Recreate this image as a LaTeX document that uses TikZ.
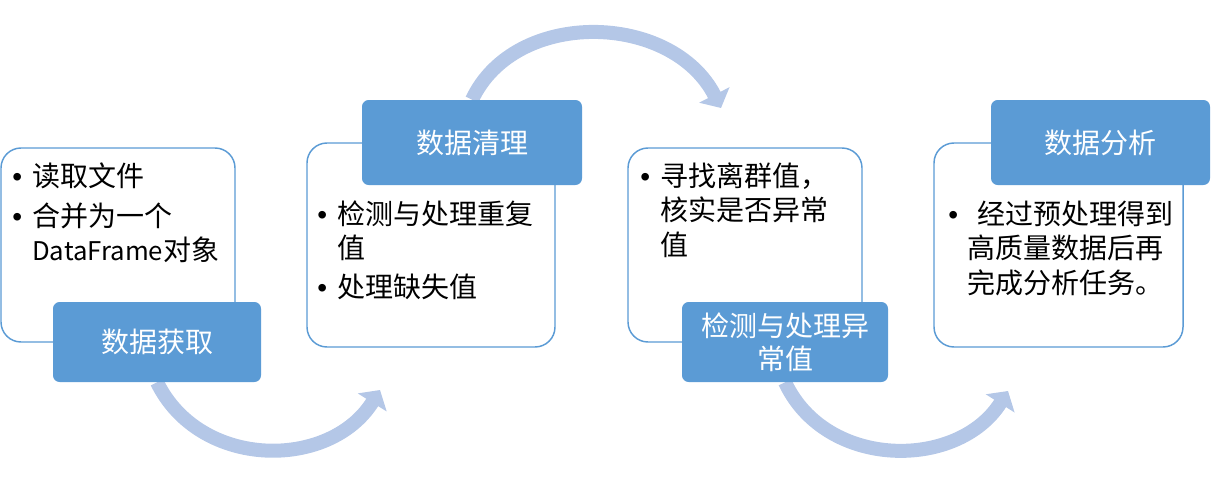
\documentclass[tikz,border=0pt]{standalone}
\usepackage{fontspec}
\setmainfont{Noto Sans CJK SC}
\newfontfamily\bulfont{Liberation Sans}
\usetikzlibrary{arrows.meta}
\definecolor{mblue}{HTML}{5B9BD5}
\definecolor{marrow}{HTML}{B4C7E7}
\newcommand\bul{\makebox[15pt][l]{\bulfont •}}
\newcommand\bulsp{\hspace*{15pt}}
\pgfdeclarelayer{background}
\pgfsetlayers{background,main}
\begin{document}
\begin{tikzpicture}[x=0.75pt,y=-0.75pt,
  txt/.style={font=\fontsize{21}{26}\selectfont, inner sep=0pt, anchor=base west, text=black},
  wbox/.style={draw=mblue, line width=1.1pt, fill=white, rounded corners=15pt, inner sep=0pt},
  bbox/.style={fill=mblue, rounded corners=5pt, text=white, font=\fontsize{21}{25}\selectfont, align=center, inner sep=0pt},
  flow/.style={draw=marrow, line width=10.5pt, -{Triangle[length=11pt,width=25pt]}}
]
\useasboundingbox (0,0) rectangle (1212,492);

% white content boxes
\node[wbox, minimum width=175.5pt, minimum height=145.5pt] (w1) at (118,245) {};
\node[wbox, minimum width=186pt, minimum height=153pt] (w2) at (431,245) {};
\node[wbox, minimum width=175.5pt, minimum height=145.5pt] (w3) at (745,245) {};
\node[wbox, minimum width=186.75pt, minimum height=153pt] (w4) at (1058.5,245) {};

% box texts
\node[txt] (t1a) at (12,186) {\bul 读取文件};
\node[txt] (t1b) at (12,226) {\vtop{\hbox{\bul 合并为一个}\hbox{\bulsp {\fontsize{19.3}{26}\selectfont DataFrame}对象}}};
\node[txt] (t2a) at (317,224) {\vtop{\hbox{\bul 检测与处理重复}\hbox{\bulsp 值}}};
\node[txt] (t2b) at (317,297) {\bul 处理缺失值};
\node[txt] (t3a) at (640,186) {\vtop{\hbox{\bul 寻找离群值，}\hbox{\bulsp 核实是否异常}\hbox{\bulsp 值}}};
\node[txt] (t4a) at (948,224) {\vtop{\hbox{\makebox[14.25pt][l]{\bulfont •}\hspace*{7.5pt}经过预处理得到}\hbox{\hspace*{14.25pt}高质量数据后再}\hbox{\hspace*{14.25pt}完成分析任务。}}};

% blue title boxes
\node[bbox, minimum width=156pt, minimum height=60pt] (b1) at (157,342) {数据获取};
\node[bbox, minimum width=165pt, minimum height=63.75pt] (b2) at (472,142.5) {数据清理};
\node[bbox, minimum width=154.5pt, minimum height=60pt] (b3) at (785,342) {检测与处理异\\常值};
\node[bbox, minimum width=164.25pt, minimum height=63.75pt] (b4) at (1100.5,142.5) {数据分析};

% curved arrows
\coordinate (e1) at (380,390);
\coordinate (e2) at (721,108);
\coordinate (e3) at (1008,391);
\begin{pgfonlayer}{background}
\draw[flow] (b1.south) .. controls (200,470) and (330,470) .. (e1);
\draw[flow] (b2.north) .. controls (515,8) and (672,12) .. (e2);
\draw[flow] (b3.south) .. controls (826,470) and (958,470) .. (e3);
\end{pgfonlayer}
\end{tikzpicture}
\end{document}
